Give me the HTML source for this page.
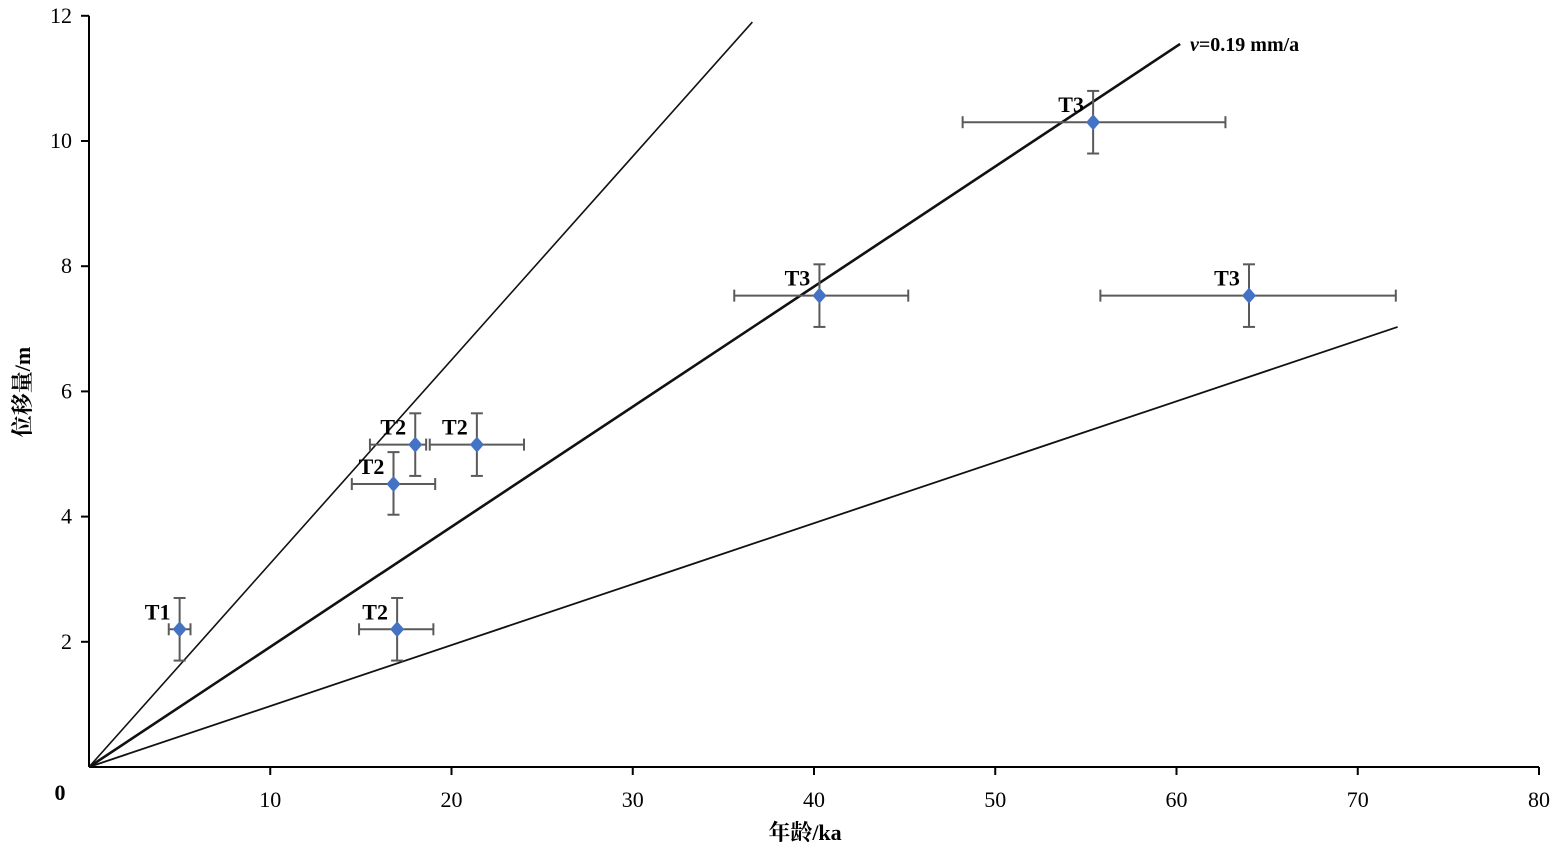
<!DOCTYPE html>
<html><head><meta charset="utf-8"><style>
html,body{margin:0;padding:0;background:#fff;}
svg{display:block;font-family:"Liberation Serif","Noto Serif CJK SC",serif;}
</style></head><body>
<svg id="chart" width="1557" height="852">
<g id="axes"></g>
<g id="lines"></g>
<g id="points"></g>
<text x="1190" y="51" font-size="20" font-weight="bold"><tspan font-style="italic">v</tspan>=0.19 mm/a</text>
<text x="805" y="840" font-size="22" font-weight="bold" text-anchor="middle">年龄/ka</text>
<text transform="translate(30,392) rotate(-90)" font-size="22" font-weight="bold" text-anchor="middle">位移量/m</text>
</svg>
<script>
const xTicks=[10,20,30,40,50,60,70,80];
const yTicks=[2,4,6,8,10,12];
const labels=["T1","T2","T2","T2","T2","T3","T3","T3"];
const ages=[5,17,16.8,18,21.4,40.3,64,55.4];
const disps=[2.2,2.2,4.52,5.15,5.15,7.53,7.53,10.3];
const ageLo=[4.4,14.9,14.5,15.5,18.8,35.6,55.8,48.2];
const ageHi=[5.6,19,19.1,18.6,24,45.2,72.1,62.7];
const dispLo=[1.7,1.7,4.03,4.65,4.65,7.03,7.03,9.8];
const dispHi=[2.7,2.7,5.03,5.65,5.65,8.03,8.03,10.8];
const lineEndAge=[36.6,60.2,72.2];
const lineEndDisp=[11.9,11.55,7.03];
const lineWidths=[1.6,2.6,1.8];

const X=v=>89+v*18.125;
const Y=v=>767-v*62.6;
const NS="http://www.w3.org/2000/svg";
function mk(tag,attrs,parent){const e=document.createElementNS(NS,tag);for(const k in attrs)e.setAttribute(k,attrs[k]);parent.appendChild(e);return e;}
const axes=document.getElementById('axes');
let e=mk('line',{x1:X(0),y1:Y(0),x2:X(80),y2:Y(0),stroke:'#000','stroke-width':2},axes);


e=mk('line',{x1:X(0),y1:Y(0),x2:X(0),y2:Y(12),stroke:'#000','stroke-width':2},axes);


e=mk('text',{x:60,y:800,'font-size':22,'font-weight':'bold','text-anchor':'middle'},axes);e.textContent='0';


xTicks.forEach(t=>{
 let l=mk('line',{x1:X(t),y1:Y(0),x2:X(t),y2:Y(0)+8,stroke:'#000','stroke-width':2},axes);
 
 
 let s=mk('text',{x:X(t),y:807,'font-size':22,'text-anchor':'middle'},axes);s.textContent=t;
 
 
});
yTicks.forEach(t=>{
 let l=mk('line',{x1:X(0)-8,y1:Y(t),x2:X(0),y2:Y(t),stroke:'#000','stroke-width':2},axes);
 
 
 let s=mk('text',{x:72,y:Y(t)+7,'font-size':22,'text-anchor':'end'},axes);s.textContent=t;
 
 
});
const lines=document.getElementById('lines');
lineEndAge.forEach((a,i)=>{
 let l=mk('line',{x1:X(0),y1:Y(0),x2:X(a),y2:Y(lineEndDisp[i]),stroke:'#111','stroke-width':lineWidths[i]},lines);
 
 
});
const pts=document.getElementById('points');
ages.forEach((a,i)=>{
 const g=mk('g',{},pts);
 
 
 const c='#5a5a5a',w=2;
 mk('line',{x1:X(ageLo[i]),y1:Y(disps[i]),x2:X(ageHi[i]),y2:Y(disps[i]),stroke:c,'stroke-width':w},g);
 mk('line',{x1:X(ageLo[i]),y1:Y(disps[i])-6,x2:X(ageLo[i]),y2:Y(disps[i])+6,stroke:c,'stroke-width':w},g);
 mk('line',{x1:X(ageHi[i]),y1:Y(disps[i])-6,x2:X(ageHi[i]),y2:Y(disps[i])+6,stroke:c,'stroke-width':w},g);
 mk('line',{x1:X(a),y1:Y(dispLo[i]),x2:X(a),y2:Y(dispHi[i]),stroke:c,'stroke-width':w},g);
 mk('line',{x1:X(a)-6,y1:Y(dispLo[i]),x2:X(a)+6,y2:Y(dispLo[i]),stroke:c,'stroke-width':w},g);
 mk('line',{x1:X(a)-6,y1:Y(dispHi[i]),x2:X(a)+6,y2:Y(dispHi[i]),stroke:c,'stroke-width':w},g);
 const px=X(a),py=Y(disps[i]);
 mk('polygon',{points:`${px},${py-8} ${px+7},${py} ${px},${py+8} ${px-7},${py}`,fill:'#4472c4'},g);
 const t=mk('text',{x:px-22,y:py-10,'font-size':22,'font-weight':'bold','text-anchor':'middle'},g);
 t.textContent=labels[i];
 
 
});
</script>
</body></html>
